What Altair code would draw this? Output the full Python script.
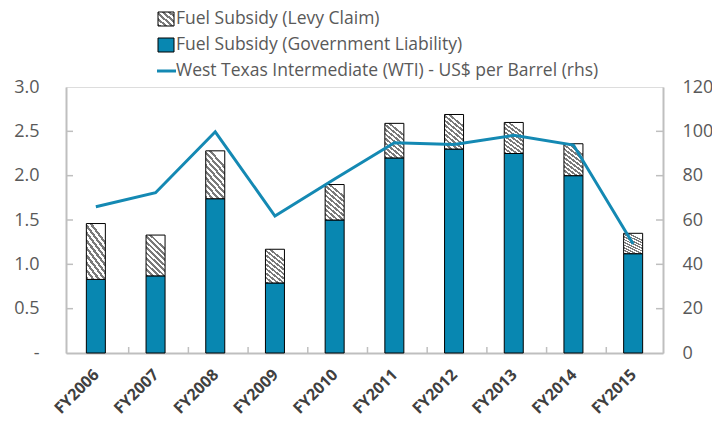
import altair as alt
import pandas as pd

years = ["FY2006", "FY2007", "FY2008", "FY2009", "FY2010",
         "FY2011", "FY2012", "FY2013", "FY2014", "FY2015"]
gov_liability = [0.83, 0.87, 1.74, 0.79, 1.50, 2.20, 2.30, 2.25, 2.00, 1.12]
total_subsidy = [1.46, 1.33, 2.28, 1.17, 1.90, 2.59, 2.69, 2.60, 2.36, 1.35]
wti = [66.0, 72.3, 99.8, 61.8, 78.5, 94.9, 94.1, 98.2, 93.8, 49.2]

left_ticks = [0.5, 1.0, 1.5, 2.0, 2.5]
legend_labels = ["Fuel Subsidy (Levy Claim)",
                 "Fuel Subsidy (Government Liability)",
                 "West Texas Intermediate (WTI) - US$ per Barrel (rhs)"]

TEAL = "#0887B1"
LINE = "#1489B3"
GRAY_TXT = "#595959"
AX = "#BFBFBF"
FONT = "Open Sans"

W, H = 597, 266

df = pd.DataFrame({"year": years, "gov": gov_liability,
                   "total": total_subsidy, "wti": wti})


def hatch(n, a):
    stops = []
    for k in range(n):
        stops += [
            {"offset": k / n, "color": "#ffffff"},
            {"offset": (k + 0.5) / n, "color": "#ffffff"},
            {"offset": (k + 0.5) / n, "color": "#7a7a7a"},
            {"offset": (k + 1) / n, "color": "#7a7a7a"},
        ]
    return {"gradient": "linear", "x1": a, "y1": 0, "x2": 0, "y2": 1,
            "stops": stops}


xenc = alt.X("year:N", sort=years, title=None,
             axis=alt.Axis(labelAngle=-45, labelFontWeight="bold",
                           labelFontSize=16, labelColor="#404040",
                           labelFont=FONT, ticks=False, labelPadding=13,
                           labelOffset=-5,
                           domainColor=AX, domainWidth=2))

yscale = alt.Scale(domain=[0, 3], nice=False)

base = alt.Chart(df)

gov = base.mark_bar(size=19, color=TEAL, stroke="black", strokeWidth=1).encode(
    x=xenc,
    y=alt.Y("gov:Q", scale=yscale, title=None,
            axis=alt.Axis(values=[0, 0.5, 1.0, 1.5, 2.0, 2.5, 3.0],
                          labelExpr="datum.value == 0 ? '-' : format(datum.value, '.1f')",
                          ticks=False, labelPadding=27, labelFontSize=18,
                          labelColor=GRAY_TXT, labelFont=FONT,
                          domainColor=AX, domainWidth=2, grid=False)),
)

levy = base.mark_bar(size=19, fill=hatch(9, 0.45), stroke="black",
                     strokeWidth=1).encode(
    x=alt.X("year:N", sort=years),
    y=alt.Y("gov:Q", scale=yscale),
    y2="total:Q",
)

tick_df = pd.DataFrame({"v": left_ticks})
lticks = alt.Chart(tick_df).mark_rule(color=AX, strokeWidth=1.5).encode(
    y=alt.Y("v:Q", scale=yscale), x=alt.value(0), x2=alt.value(7))
rticks = alt.Chart(tick_df).mark_rule(color=AX, strokeWidth=1.5).encode(
    y=alt.Y("v:Q", scale=yscale), x=alt.value(W - 7), x2=alt.value(W))

bt_df = pd.DataFrame({"year": years[1:]})
bticks = alt.Chart(bt_df).mark_rule(color=AX, strokeWidth=1.5).encode(
    x=alt.X("year:N", sort=years, bandPosition=0),
    y=alt.value(H - 6), y2=alt.value(H))

bars = alt.layer(gov, levy, lticks, rticks, bticks)

line = base.mark_line(color=LINE, strokeWidth=3).encode(
    x=alt.X("year:N", sort=years),
    y=alt.Y("wti:Q", scale=alt.Scale(domain=[0, 120], nice=False), title=None,
            axis=alt.Axis(orient="right", values=[0, 20, 40, 60, 80, 100, 120],
                          ticks=False, labelPadding=19, labelFontSize=18,
                          labelColor=GRAY_TXT, labelFont=FONT,
                          domainColor=AX, domainWidth=2, grid=False)),
)

# manual legend
leg_df = pd.DataFrame({"label": legend_labels, "row": [0, 1, 2]})
leg_text = alt.Chart(leg_df).mark_text(
    align="left", baseline="middle", fontSize=17.5, font=FONT, color=GRAY_TXT
).encode(
    text="label:N",
    x=alt.value(110),
    y=alt.Y("row:Q", scale=alt.Scale(domain=[0, 2], range=[-68, -16]),
            axis=None),
)
sw1 = alt.Chart(leg_df.iloc[[0]]).mark_rect(
    fill=hatch(5, 1.0), stroke="black", strokeWidth=1
).encode(x=alt.value(92), x2=alt.value(108), y=alt.value(-75), y2=alt.value(-61))
sw2 = alt.Chart(leg_df.iloc[[1]]).mark_rect(
    fill=TEAL, stroke="black", strokeWidth=1
).encode(x=alt.value(92), x2=alt.value(108), y=alt.value(-49), y2=alt.value(-35))
sw3 = alt.Chart(leg_df.iloc[[2]]).mark_rule(
    color=LINE, strokeWidth=3
).encode(x=alt.value(91), x2=alt.value(110), y=alt.value(-16))

legend = alt.layer(leg_text, sw1, sw2, sw3)

chart = alt.layer(bars, line, legend).resolve_scale(y="independent").properties(
    width=W, height=H,
    autosize=alt.AutoSizeParams(type="none"),
    padding={"left": 58, "top": 79, "right": 49, "bottom": 66},
).configure_view(stroke=AX, strokeWidth=2).configure(background="white")

chart.save("out.html", embed_options={"renderer": "svg", "actions": False})
